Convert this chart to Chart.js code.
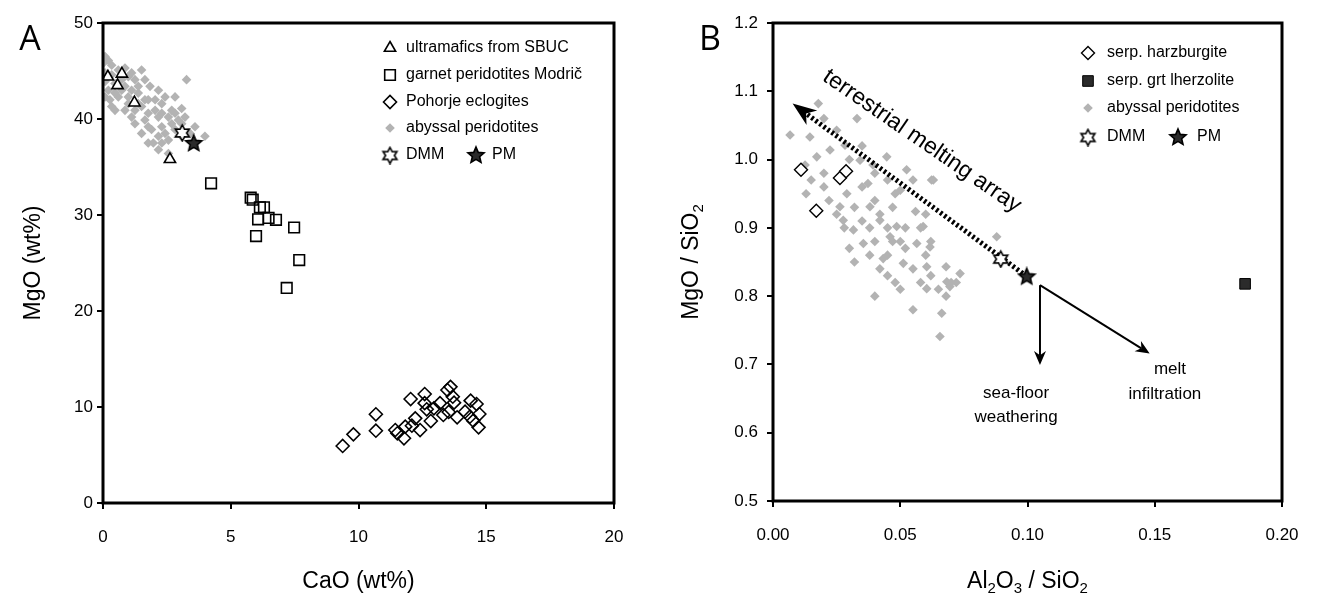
<!DOCTYPE html>
<html>
<head>
<meta charset="utf-8">
<script src="https://cdn.jsdelivr.net/npm/chart.js@4.4.0/dist/chart.umd.min.js"></script>
<style>
  html, body { margin: 0; padding: 0; background: #fff; }
  #wrap { position: relative; width: 1317px; height: 608px; }
  #chartA { position: absolute; left: 0; top: 0; }
  #chartB { position: absolute; left: 660px; top: 0; }
</style>
</head>
<body>
<div id="wrap">
  <canvas id="chartA" width="660" height="608"></canvas>
  <canvas id="chartB" width="657" height="608"></canvas>
</div>
<script>
// ---- panel A : MgO vs CaO (wt%) ----
const sbucCaO = [0.19, 0.74, 0.57, 1.23, 2.62];
const sbucMgO = [44.4, 44.7, 43.5, 41.7, 35.8];

const modricCaO = [4.23, 5.78, 5.86, 6.14, 6.3, 6.07, 6.48, 6.77, 7.48, 5.99, 7.68, 7.19];
const modricMgO = [33.3, 31.8, 31.6, 30.8, 30.8, 29.55, 29.7, 29.5, 28.7, 27.8, 25.3, 22.4];

const pohorjeCaO = [9.38, 9.8, 10.68, 10.68, 11.44, 11.52, 11.78, 11.83, 12.04, 12.09, 12.22, 12.41, 12.59, 12.59, 12.67, 12.83,
                    13.19, 13.32, 13.48, 13.6, 13.69, 13.74, 13.53, 13.86, 14.17, 14.39, 14.62, 14.49, 14.73, 14.7, 14.36, 12.95];
const pohorjeMgO = [5.94, 7.15, 9.24, 7.53, 7.6, 7.26, 6.74, 7.95, 10.83, 8.05, 8.82, 7.6, 11.35, 10.4, 9.76, 8.54,
                    10.4, 9.17, 11.77, 12.1, 11.07, 10.45, 9.48, 8.93, 9.51, 10.66, 10.31, 8.57, 9.27, 7.88, 8.99, 9.86];

const abyssalCaO = [0.08, 0.21, 0.01, 0.34, 0.86, 1.51, 1.12, 0.99, 0.73, 1.25, 1.84, 2.17, 2.82, 3.27, 3.08, 3.21, 2.69, 2.3, 2.04, 1.64,
                    1.9, 1.77, 2.17, 2.56, 2.43, 3.99, 3.6, 2.95, 2.69, 0.47, 0.27, 0.21, 0.08, 0.6, 0.99, 1.38, 1.51, 1.12, 1.77, 2.3,
                    2.17, 2.56, 2.82, 1.25, 1.64, 0.73, 0.47, 0.08, 0.34, 0.6, 1.38, 2.04, 2.43, 3.08, 3.41, 2.17, 1.97, 2.56, 0.86, 0.99,
                    1.38, 1.77, 1.25, 1.51, 2.3, 3.08, 2.82, 0.34, 0.86, 1.77, 1.12, 1.64, 0.47, 0.08, 2.3];
const abyssalMgO = [46.5, 46.1, 45.8, 45.6, 45.3, 45.1, 44.8, 44.4, 44.1, 44.1, 43.4, 43.0, 42.3, 44.1, 41.1, 40.2, 40.9, 41.6, 40.9, 39.9,
                    38.9, 37.5, 36.8, 37.8, 38.5, 38.2, 39.2, 39.9, 39.5, 40.9, 42.0, 43.0, 43.9, 42.3, 42.3, 42.7, 41.3, 40.2, 39.2, 39.2,
                    40.2, 40.2, 40.6, 40.9, 42.0, 43.0, 43.7, 44.8, 44.6, 45.1, 43.4, 42.0, 42.3, 38.2, 38.5, 38.2, 37.5, 36.4, 43.4, 41.6,
                    41.6, 40.6, 39.5, 38.5, 40.6, 39.5, 38.9, 41.3, 40.9, 42.0, 43.0, 44.1, 42.7, 42.3, 37.5];

const dmmCaO = [3.1], dmmMgO = [38.6];
const pmCaO = [3.55], pmMgO = [37.5];

// ---- panel B : MgO/SiO2 vs Al2O3/SiO2 ----
const harzAl = [0.011, 0.017, 0.0263, 0.0287];
const harzMg = [0.985, 0.925, 0.973, 0.983];

const grtAl = [0.1855];
const grtMg = [0.818];

const abyssalAl = [0.025, 0.0283, 0.0447, 0.0623, 0.0879, 0.0393, 0.0373, 0.029, 0.042, 0.05, 0.056, 0.059, 0.046, 0.0355, 0.0565,
                   0.0617, 0.0735, 0.0512, 0.0433, 0.068, 0.0276, 0.0263, 0.0316, 0.0381, 0.0486, 0.0342, 0.0224, 0.0525, 0.0604, 0.0683,
                   0.0604, 0.0663, 0.0656, 0.0695, 0.0067, 0.0145, 0.0126, 0.0172, 0.0178, 0.02, 0.015, 0.02, 0.022, 0.025, 0.028,
                   0.032, 0.035, 0.03, 0.035, 0.04, 0.045, 0.048, 0.055, 0.042, 0.045, 0.04, 0.03, 0.032, 0.038, 0.042,
                   0.045, 0.05, 0.052, 0.055, 0.06, 0.062, 0.065, 0.07, 0.068, 0.055, 0.04, 0.048, 0.038, 0.028, 0.033,
                   0.06, 0.062, 0.047, 0.052, 0.045, 0.035, 0.04, 0.047, 0.058, 0.072, 0.05, 0.058, 0.063, 0.02, 0.013];
const abyssalMg = [1.043, 1.021, 1.004, 0.97, 0.887, 0.992, 0.965, 0.95, 0.911, 0.955, 0.924, 0.902, 0.887, 0.877, 0.877,
                   0.872, 0.833, 0.848, 0.855, 0.843, 0.911, 0.931, 0.897, 0.931, 0.902, 0.999, 1.014, 0.985, 0.843, 0.821,
                   0.811, 0.775, 0.741, 0.814, 1.036, 1.033, 0.992, 1.004, 1.082, 1.06, 0.97, 0.96, 0.94, 0.92, 0.90,
                   0.93, 0.96, 1.0, 1.02, 0.98, 0.97, 0.95, 0.97, 0.92, 0.90, 0.88, 0.87, 0.85, 0.86, 0.84,
                   0.86, 0.88, 0.90, 0.84, 0.86, 0.83, 0.81, 0.82, 0.80, 0.78, 0.80, 0.82, 0.90, 0.98, 1.06,
                   0.92, 0.88, 0.88, 0.87, 0.83, 0.91, 0.94, 0.93, 0.90, 0.82, 0.81, 0.82, 0.97, 0.98, 0.95];

const dmmAl = [0.0895], dmmMg = [0.855];
const pmAl = [0.0997], pmMg = [0.829];

// arrows: [start, end]
const meltArrayAl = [0.0997, 0.0077], meltArrayMg = [0.829, 1.082];
const seafloorAl = [0.1049, 0.1049], seafloorMg = [0.816, 0.699];
const infiltrAl = [0.1049, 0.148], infiltrMg = [0.816, 0.716];

const noteText = ['sea-floor', 'weathering', 'melt', 'infiltration'];
const noteAl = [0.0955, 0.0955, 0.156, 0.154];
const noteMg = [0.658, 0.623, 0.693, 0.656];
const trendText = 'terrestrial melting array';
const trendAl = 0.0585, trendMg = 1.027, trendAngle = 34.5;

const FONT = '"Liberation Sans", Arial, sans-serif';

function pts(xs, ys) {
    return xs.map((x, i) => ({ x: x, y: ys[i] }));
}

function makeStar(fill, n, size) {
    const c = document.createElement('canvas');
    c.width = size; c.height = size;
    const g = c.getContext('2d');
    const cx = size / 2, cy = size / 2 + 0.5;
    const R = size / 2 - 1.5, r = n === 6 ? R * 0.55 : R * 0.45;
    g.beginPath();
    for (let i = 0; i < n * 2; i++) {
        const rad = i % 2 ? r : R;
        const a = -Math.PI / 2 + i * Math.PI / n;
        g.lineTo(cx + rad * Math.cos(a), cy + rad * Math.sin(a));
    }
    g.closePath();
    g.fillStyle = fill;
    g.fill();
    g.lineWidth = 1.6;
    g.strokeStyle = '#000';
    g.stroke();
    return c;
}
const starOpen = makeStar('#fff', 6, 19);
const starFull = makeStar('#2b2b2b', 5, 20);

const styles = {
    sbuc:    { pointStyle: 'triangle', radius: 6.5, backgroundColor: '#fff', borderColor: '#000', borderWidth: 1.6 },
    modric:  { pointStyle: 'rect', radius: 7.5, backgroundColor: 'rgba(0,0,0,0)', borderColor: '#000', borderWidth: 1.6 },
    pohorje: { pointStyle: 'rectRot', radius: 6.5, backgroundColor: 'rgba(0,0,0,0)', borderColor: '#000', borderWidth: 1.6 },
    harz:    { pointStyle: 'rectRot', radius: 6.5, backgroundColor: '#fff', borderColor: '#000', borderWidth: 1.4 },
    grt:     { pointStyle: 'rect', radius: 7.5, backgroundColor: '#2b2b2b', borderColor: '#000', borderWidth: 1 },
    abyssal: { pointStyle: 'rectRot', radius: 4.8, backgroundColor: '#b3b3b3', borderColor: '#b3b3b3', borderWidth: 0 },
    dmm:     { pointStyle: starOpen, radius: 9 },
    pm:      { pointStyle: starFull, radius: 9 }
};

function ds(label, data, st) {
    return {
        label: label,
        data: data,
        pointStyle: st.pointStyle,
        pointRadius: st.radius,
        pointHoverRadius: st.radius,
        pointBackgroundColor: st.backgroundColor || '#000',
        pointBorderColor: st.borderColor || '#000',
        pointBorderWidth: st.borderWidth || 0
    };
}

function drawSymbol(ctx, st, x, y) {
    ctx.save();
    ctx.fillStyle = st.backgroundColor || '#000';
    ctx.strokeStyle = st.borderColor || '#000';
    ctx.lineWidth = st.borderWidth || 0;
    Chart.helpers.drawPoint(ctx, { pointStyle: st.pointStyle, radius: st.radius, rotation: 0, borderWidth: st.borderWidth || 0 }, x, y);
    ctx.restore();
}

// text with subscripts: parts = [[text, isSub], ...], centred on x
function drawRich(ctx, parts, x, y, size) {
    const sub = Math.round(size * 0.66);
    let w = 0;
    parts.forEach(p => {
        ctx.font = (p[1] ? sub : size) + 'px ' + FONT;
        w += ctx.measureText(p[0]).width;
    });
    let cx = x - w / 2;
    ctx.textAlign = 'left';
    ctx.textBaseline = 'middle';
    parts.forEach(p => {
        ctx.font = (p[1] ? sub : size) + 'px ' + FONT;
        ctx.fillText(p[0], cx, y + (p[1] ? size * 0.3 : 0));
        cx += ctx.measureText(p[0]).width;
    });
}

function drawFrame(chart) {
    const ctx = chart.ctx, a = chart.chartArea;
    ctx.save();
    ctx.strokeStyle = '#000';
    ctx.lineWidth = 3;
    ctx.strokeRect(a.left, a.top, a.right - a.left, a.bottom - a.top);
    ctx.restore();
}

function drawLegend(ctx, rows, symX, textX, ys, size) {
    ctx.save();
    ctx.fillStyle = '#000';
    ctx.font = size + 'px ' + FONT;
    ctx.textBaseline = 'middle';
    rows.forEach((row, i) => {
        row.forEach(item => {
            drawSymbol(ctx, item.st, item.dx + symX, ys[i]);
            ctx.fillStyle = '#000';
            ctx.textAlign = 'left';
            ctx.font = size + 'px ' + FONT;
            ctx.fillText(item.text, item.dx + textX, ys[i]);
        });
    });
    ctx.restore();
}

function arrowTo(ctx, x0, y0, x1, y1, len, halfW, lineW, dash) {
    const ang = Math.atan2(y1 - y0, x1 - x0);
    const ex = x1 - Math.cos(ang) * len * 0.7, ey = y1 - Math.sin(ang) * len * 0.7;
    ctx.save();
    ctx.strokeStyle = '#000';
    ctx.fillStyle = '#000';
    ctx.lineWidth = lineW;
    ctx.lineCap = 'butt';
    ctx.setLineDash(dash || []);
    ctx.beginPath();
    ctx.moveTo(x0, y0);
    ctx.lineTo(ex, ey);
    ctx.stroke();
    ctx.setLineDash([]);
    ctx.translate(x1, y1);
    ctx.rotate(ang);
    ctx.beginPath();
    ctx.moveTo(0, 0);
    ctx.lineTo(-len, -halfW);
    ctx.lineTo(-len * 0.7, 0);
    ctx.lineTo(-len, halfW);
    ctx.closePath();
    ctx.fill();
    ctx.restore();
}

function axisConf(min, max, step, digits, fitKey, fitVal, pad) {
    return {
        type: 'linear', min: min, max: max,
        afterFit: s => { s[fitKey] = fitVal; },
        ticks: {
            stepSize: step, color: '#000', padding: pad,
            font: { family: FONT, size: 17 },
            callback: v => Number(v).toFixed(digits)
        },
        grid: { display: true, drawOnChartArea: false, drawTicks: true, tickLength: 6, color: '#000', lineWidth: 2 },
        border: { display: false }
    };
}

// ---- chart A ----
const decorA = {
    id: 'decorA',
    afterDraw(chart) {
        const ctx = chart.ctx, a = chart.chartArea;
        drawFrame(chart);
        ctx.save();
        ctx.fillStyle = '#000';
        ctx.font = '23px ' + FONT;
        ctx.textAlign = 'center';
        ctx.textBaseline = 'middle';
        ctx.fillText('CaO (wt%)', (a.left + a.right) / 2, 582);
        ctx.translate(34, (a.top + a.bottom) / 2);
        ctx.rotate(-Math.PI / 2);
        ctx.fillText('MgO (wt%)', 0, 0);
        ctx.restore();
        ctx.save();
        ctx.fillStyle = '#000';
        ctx.font = '34px "Open Sans", sans-serif';
        ctx.textAlign = 'center';
        ctx.textBaseline = 'middle';
        ctx.fillText('A', 30, 40);
        ctx.restore();
        drawLegend(ctx, [
            [{ st: styles.sbuc, text: 'ultramafics from SBUC', dx: 0 }],
            [{ st: styles.modric, text: 'garnet peridotites Modrič', dx: 0 }],
            [{ st: styles.pohorje, text: 'Pohorje eclogites', dx: 0 }],
            [{ st: styles.abyssal, text: 'abyssal peridotites', dx: 0 }],
            [{ st: styles.dmm, text: 'DMM', dx: 0 }, { st: styles.pm, text: 'PM', dx: 86 }]
        ], 390, 406, [48, 75, 102, 128, 155], 16);
    }
};

new Chart(document.getElementById('chartA'), {
    type: 'scatter',
    data: {
        datasets: [
            ds('PM', pts(pmCaO, pmMgO), styles.pm),
            ds('DMM', pts(dmmCaO, dmmMgO), styles.dmm),
            ds('ultramafics from SBUC', pts(sbucCaO, sbucMgO), styles.sbuc),
            ds('garnet peridotites Modrič', pts(modricCaO, modricMgO), styles.modric),
            ds('Pohorje eclogites', pts(pohorjeCaO, pohorjeMgO), styles.pohorje),
            ds('abyssal peridotites', pts(abyssalCaO, abyssalMgO), styles.abyssal)
        ]
    },
    options: {
        responsive: false,
        animation: false,
        layout: { padding: { left: 0, right: 46, top: 23, bottom: 0 } },
        plugins: { legend: { display: false }, tooltip: { enabled: false } },
        scales: {
            x: axisConf(0, 20, 5, 0, 'height', 105, 18),
            y: axisConf(0, 50, 10, 0, 'width', 103, 4)
        }
    },
    plugins: [decorA]
});

// ---- chart B ----
const decorB = {
    id: 'decorB',
    beforeDatasetDraw(chart, args) {
        if (args.index !== 1) return;
        const ctx = chart.ctx, xs = chart.scales.x, ys = chart.scales.y;
        const px = v => xs.getPixelForValue(v), py = v => ys.getPixelForValue(v);
        arrowTo(ctx, px(meltArrayAl[0]), py(meltArrayMg[0]), px(meltArrayAl[1]), py(meltArrayMg[1]), 24, 9, 5, [2.5, 2.5]);
        arrowTo(ctx, px(seafloorAl[0]), py(seafloorMg[0]), px(seafloorAl[1]), py(seafloorMg[1]), 14, 6, 2);
        arrowTo(ctx, px(infiltrAl[0]), py(infiltrMg[0]), px(infiltrAl[1]), py(infiltrMg[1]), 14, 6, 2);
    },
    afterDraw(chart) {
        const ctx = chart.ctx, a = chart.chartArea, xs = chart.scales.x, ys = chart.scales.y;
        drawFrame(chart);
        ctx.save();
        ctx.fillStyle = '#000';
        drawRich(ctx, [['Al', 0], ['2', 1], ['O', 0], ['3', 1], [' / SiO', 0], ['2', 1]], (a.left + a.right) / 2, 582, 23);
        ctx.translate(32, (a.top + a.bottom) / 2);
        ctx.rotate(-Math.PI / 2);
        drawRich(ctx, [['MgO / SiO', 0], ['2', 1]], 0, 0, 23);
        ctx.restore();

        ctx.save();
        ctx.fillStyle = '#000';
        ctx.font = '34px "Open Sans", sans-serif';
        ctx.textAlign = 'center';
        ctx.textBaseline = 'middle';
        ctx.fillText('B', 50, 40);
        ctx.font = '17px ' + FONT;
        noteText.forEach((t, i) => {
            ctx.fillText(t, xs.getPixelForValue(noteAl[i]), ys.getPixelForValue(noteMg[i]));
        });
        ctx.translate(xs.getPixelForValue(trendAl), ys.getPixelForValue(trendMg));
        ctx.rotate(trendAngle * Math.PI / 180);
        ctx.font = '23px ' + FONT;
        ctx.fillText(trendText, 0, 0);
        ctx.restore();

        drawLegend(ctx, [
            [{ st: styles.harz, text: 'serp. harzburgite', dx: 0 }],
            [{ st: styles.grt, text: 'serp. grt lherzolite', dx: 0 }],
            [{ st: styles.abyssal, text: 'abyssal peridotites', dx: 0 }],
            [{ st: styles.dmm, text: 'DMM', dx: 0 }, { st: styles.pm, text: 'PM', dx: 90 }]
        ], 428, 447, [53, 81, 108, 137], 16);
    }
};

new Chart(document.getElementById('chartB'), {
    type: 'scatter',
    data: {
        datasets: [
            ds('PM', pts(pmAl, pmMg), styles.pm),
            ds('DMM', pts(dmmAl, dmmMg), styles.dmm),
            ds('serp. harzburgite', pts(harzAl, harzMg), styles.harz),
            ds('serp. grt lherzolite', pts(grtAl, grtMg), styles.grt),
            ds('abyssal peridotites', pts(abyssalAl, abyssalMg), styles.abyssal)
        ]
    },
    options: {
        responsive: false,
        animation: false,
        layout: { padding: { left: 0, right: 35, top: 23, bottom: 0 } },
        plugins: { legend: { display: false }, tooltip: { enabled: false } },
        scales: {
            x: axisConf(0, 0.2, 0.05, 2, 'height', 107, 18),
            y: axisConf(0.5, 1.2, 0.1, 1, 'width', 113, 9)
        }
    },
    plugins: [decorB]
});
</script>
</body>
</html>
